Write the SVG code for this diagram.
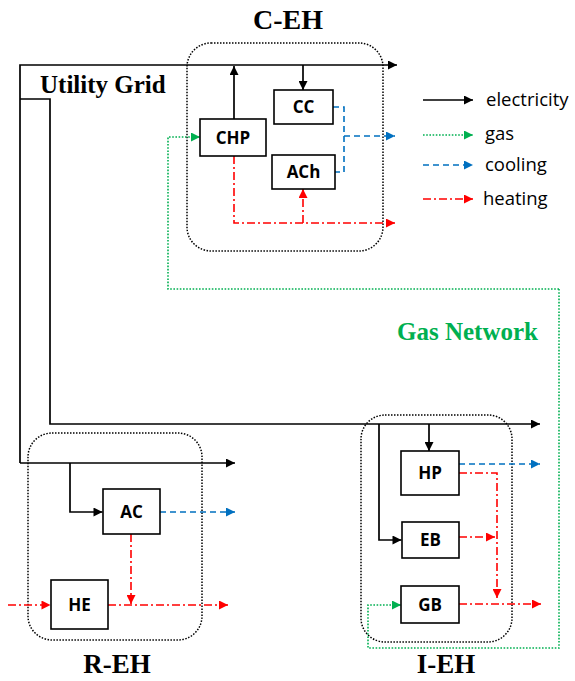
<svg xmlns="http://www.w3.org/2000/svg" width="575" height="681" viewBox="0 0 575 681">
<style>
.bg{fill:#fff}
.hub{fill:none;stroke:#000;stroke-width:1.5;stroke-dasharray:1.5 1.5}
.box{fill:#fff;stroke:#000;stroke-width:1.6}
.lbl{font-family:"Open Sans","Liberation Sans",sans-serif;font-weight:bold;font-size:17px;text-anchor:middle;fill:#000}
.title{font-family:"Liberation Serif",serif;font-weight:bold;fill:#000}
.leg{font-family:"Open Sans","Liberation Sans",sans-serif;font-size:18.5px;fill:#000}
.el{fill:none;stroke:#000;stroke-width:1.7}
.gas{fill:none;stroke:#00B050;stroke-width:1.6;stroke-dasharray:1.6 1.6}
.cool{fill:none;stroke:#0070C0;stroke-width:1.6;stroke-dasharray:6 4}
.heat{fill:none;stroke:#FF0000;stroke-width:1.6;stroke-dasharray:8 3 2 3}
</style>
<defs>
<marker id="aK" viewBox="0 0 10 10" refX="10" refY="5" markerWidth="10" markerHeight="9" markerUnits="userSpaceOnUse" orient="auto"><path d="M0,0 L10,5 L0,10 z" fill="#000"/></marker>
<marker id="aG" viewBox="0 0 10 10" refX="10" refY="5" markerWidth="10" markerHeight="9" markerUnits="userSpaceOnUse" orient="auto"><path d="M0,0 L10,5 L0,10 z" fill="#00B050"/></marker>
<marker id="aB" viewBox="0 0 10 10" refX="10" refY="5" markerWidth="10" markerHeight="9" markerUnits="userSpaceOnUse" orient="auto"><path d="M0,0 L10,5 L0,10 z" fill="#0070C0"/></marker>
<marker id="aR" viewBox="0 0 10 10" refX="10" refY="5" markerWidth="10" markerHeight="9" markerUnits="userSpaceOnUse" orient="auto"><path d="M0,0 L10,5 L0,10 z" fill="#FF0000"/></marker>
</defs>
<rect class="bg" x="0" y="0" width="575" height="681"/>

<g id="hub-C-EH"><rect class="hub" x="187" y="43" width="196" height="208" rx="24"/><text class="title" x="288" y="29" font-size="28" text-anchor="middle">C-EH</text></g>
<g id="hub-R-EH"><rect class="hub" x="28" y="433" width="174" height="207" rx="24"/><text class="title" x="117" y="673" font-size="27" text-anchor="middle">R-EH</text></g>
<g id="hub-I-EH"><rect class="hub" x="361" y="415" width="151" height="227" rx="24"/><text class="title" x="446" y="673" font-size="27" text-anchor="middle">I-EH</text></g>

<g id="connectors">
<!-- electricity -->
<path class="el" d="M20,463 V65 H397" marker-end="url(#aK)"/>
<path class="el" d="M20,463 H235" marker-end="url(#aK)"/>
<path class="el" d="M20,99 H50 V424 H540" marker-end="url(#aK)"/>
<path class="el" d="M234,119 V66" marker-end="url(#aK)"/>
<path class="el" d="M303,65 V90" marker-end="url(#aK)"/>
<path class="el" d="M70,463 V512 H102.5" marker-end="url(#aK)"/>
<path class="el" d="M379,424 V540 H401.5" marker-end="url(#aK)"/>
<path class="el" d="M429,424 V451" marker-end="url(#aK)"/>
<!-- gas -->
<path class="gas" d="M559,289 H168 V137 H200" marker-end="url(#aG)"/>
<path class="gas" d="M559,289 V648 H368 V605 H401" marker-end="url(#aG)"/>
<!-- cooling -->
<path class="cool" d="M333,107 H344 V172 H335"/>
<path class="cool" d="M344,136 H395" marker-end="url(#aB)"/>
<path class="cool" d="M160,512 H235" marker-end="url(#aB)"/>
<path class="cool" d="M459,464 H540" marker-end="url(#aB)"/>
<!-- heating -->
<path class="heat" d="M234,156 V223 H395" marker-end="url(#aR)"/>
<path class="heat" d="M303,223 V189" marker-end="url(#aR)"/>
<path class="heat" d="M131,534 V604" marker-end="url(#aR)"/>
<path class="heat" d="M8,605 H50.5" marker-end="url(#aR)"/>
<path class="heat" d="M108,605 H228" marker-end="url(#aR)"/>
<path class="heat" d="M459,473 H497 V598" marker-end="url(#aR)"/>
<path class="heat" d="M459,537 H495" marker-end="url(#aR)"/>
<path class="heat" d="M459,604 H541" marker-end="url(#aR)"/>
</g>

<g id="node-CHP"><rect class="box" x="200" y="119" width="66" height="37"/><text class="lbl" x="233" y="143.5">CHP</text></g>
<g id="node-CC"><rect class="box" x="274" y="90" width="59" height="34"/><text class="lbl" x="303.5" y="113">CC</text></g>
<g id="node-ACh"><rect class="box" x="272" y="155" width="63" height="34"/><text class="lbl" x="303.5" y="178">ACh</text></g>
<g id="node-AC"><rect class="box" x="103" y="489" width="57" height="45"/><text class="lbl" x="131.5" y="517.5">AC</text></g>
<g id="node-HE"><rect class="box" x="51" y="580" width="57" height="49"/><text class="lbl" x="79.5" y="610.5">HE</text></g>
<g id="node-HP"><rect class="box" x="401" y="451" width="58" height="44"/><text class="lbl" x="430" y="479">HP</text></g>
<g id="node-EB"><rect class="box" x="402" y="522" width="57" height="36"/><text class="lbl" x="430.5" y="546">EB</text></g>
<g id="node-GB"><rect class="box" x="401" y="586" width="58" height="37"/><text class="lbl" x="430" y="610.5">GB</text></g>

<g id="labels">
<text class="title" x="40" y="93" font-size="25">Utility Grid</text>
<text class="title" x="397" y="340" font-size="25" style="fill:#00B050">Gas Network</text>
</g>

<g id="legend">
<path class="el" d="M423,100 H473" marker-end="url(#aK)"/>
<text class="leg" x="486" y="106">electricity</text>
<path class="gas" d="M423,135 H473" marker-end="url(#aG)"/>
<text class="leg" x="485" y="140">gas</text>
<path class="cool" d="M423,165 H473" marker-end="url(#aB)"/>
<text class="leg" x="485" y="171">cooling</text>
<path class="heat" d="M423,199 H473" marker-end="url(#aR)"/>
<text class="leg" x="483" y="205">heating</text>
</g>
</svg>
